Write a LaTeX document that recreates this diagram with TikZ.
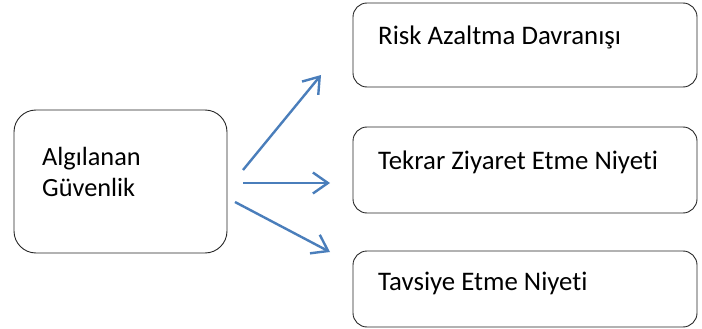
\documentclass[tikz,border=0pt]{standalone}
\usepackage{fontspec}
\setmainfont[Ligatures=NoCommon]{Carlito}
\usetikzlibrary{arrows.meta}
\definecolor{arrowblue}{HTML}{4A7EBB}
\tikzset{
  box/.style={draw=black!85, line width=0.9pt, rounded corners=#1, inner sep=0pt},
  box/.default=14pt,
  lbl/.style={anchor=west, inner sep=0pt, font=\fontsize{26.8}{32}\selectfont},
  conn/.style={draw=arrowblue, line width=2.4pt, -{Straight Barb[length=15pt,width=21pt,line width=2.4pt]}}
}
\begin{document}
\begin{tikzpicture}[x=1pt,y=-1pt]
\useasboundingbox (0,0) rectangle (702,329);
% left box
\node[box=22pt, minimum width=213pt, minimum height=143pt] (src) at (120.5,181.5) {};
\node[anchor=west, inner sep=0pt, align=left, font=\fontsize{26.3}{31.5}\selectfont] (srct) at (42,172) {Algılanan\\Güvenlik};
% right boxes
\node[box, minimum width=344pt, minimum height=84pt] (t1) at (525,45) {};
\node[box, minimum width=344pt, minimum height=86pt] (t2) at (525,170) {};
\node[box, minimum width=344pt, minimum height=76pt] (t3) at (525,289) {};
\node[lbl] (t1t) at (378,37) {Risk Azaltma Davranışı};
\node[lbl] (t2t) at (378,162) {Tekrar Ziyaret Etme Niyeti};
\node[lbl] (t3t) at (378,283) {Tavsiye Etme Niyeti};
% connectors
\coordinate (a1s) at (243,170);
\coordinate (a1e) at (321,75);
\coordinate (a2s) at (243,183);
\coordinate (a2e) at (330,183);
\coordinate (a3s) at (235,202);
\coordinate (a3e) at (330,252);
\draw[conn] (a1s) -- (a1e);
\draw[conn] (a2s) -- (a2e);
\draw[conn] (a3s) -- (a3e);
\end{tikzpicture}
\end{document}
